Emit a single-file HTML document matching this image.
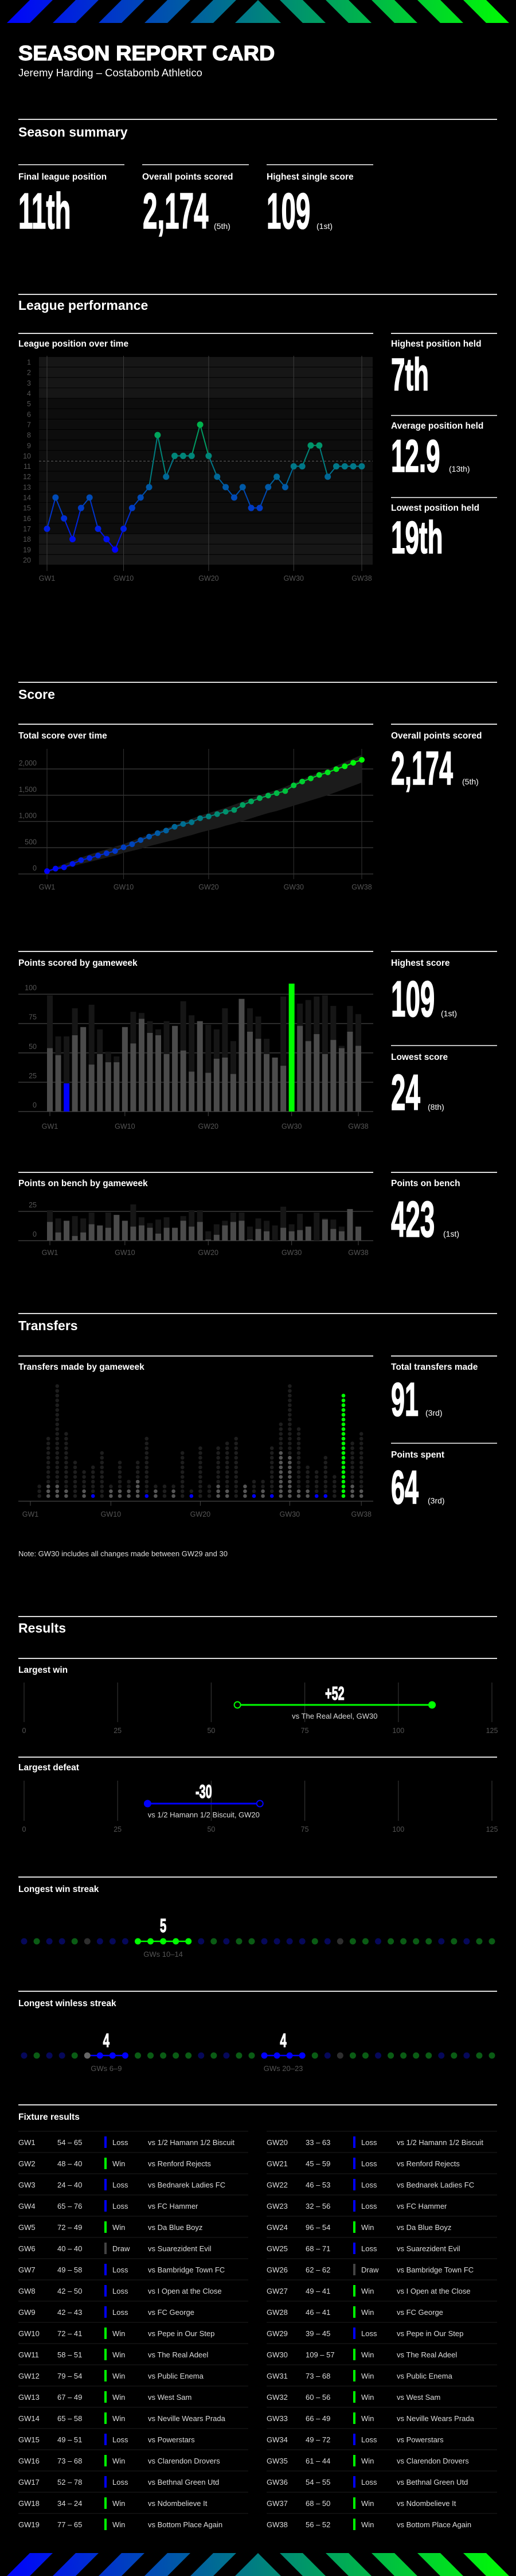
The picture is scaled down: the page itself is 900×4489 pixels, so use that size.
<!DOCTYPE html>
<html><head><meta charset="utf-8"><title>Season Report Card</title>
<style>
html,body{margin:0;padding:0;background:#000;}
svg{display:block;font-family:"Liberation Sans",Arial,sans-serif;}
.h1{font-weight:bold;fill:#fff;font-size:23px;}
.lbl{font-weight:bold;fill:#fff;font-size:15.5px;}
.big{font-weight:bold;fill:#fff;stroke:#fff;stroke-width:1.6;}
.suf{fill:#fff;font-size:14px;}
.tick{fill:#555;font-size:12.5px;}
.row{fill:#ddd;font-size:13px;}
</style></head>
<body>
<svg id="page" width="900" height="4489" viewBox="0 0 900 4489" xmlns="http://www.w3.org/2000/svg">
<defs>
<linearGradient id="stripeGrad" x1="0" y1="0" x2="900" y2="0" gradientUnits="userSpaceOnUse">
<stop offset="0" stop-color="#0000ff"/><stop offset="0.5" stop-color="#008080"/><stop offset="1" stop-color="#00ff00"/>
</linearGradient>
</defs>
<rect x="0" y="0" width="900" height="4489" fill="#000"/>
<g id="topStripes"></g>
<g id="bottomStripes"></g>

<text x="32" y="105" font-size="36" font-weight="bold" fill="#fff" stroke="#fff" stroke-width="1.2" transform="translate(32,0) scale(1.05,1) translate(-32,0)">SEASON REPORT CARD</text>
<text x="32" y="133" font-size="18.5" fill="#fff">Jeremy Harding – Costabomb Athletico</text>

<!-- Season summary -->
<rect x="32" y="207" width="835" height="2" fill="#ddd"/>
<text class="h1" x="32" y="238">Season summary</text>
<rect x="32" y="286" width="185" height="2" fill="#bbb"/>
<rect x="248" y="286" width="186" height="2" fill="#bbb"/>
<rect x="465" y="286" width="186" height="2" fill="#bbb"/>
<text class="lbl" x="32" y="313">Final league position</text>
<text class="lbl" x="248" y="313">Overall points scored</text>
<text class="lbl" x="465" y="313">Highest single score</text>
<text class="big" font-size="88" transform="translate(32,398) scale(0.52,1)">11th</text>
<text class="big" font-size="88" transform="translate(249,398) scale(0.52,1)">2,174</text>
<text class="suf" x="373" y="399">(5th)</text>
<text class="big" font-size="88" transform="translate(465,398) scale(0.52,1)">109</text>
<text class="suf" x="552" y="399">(1st)</text>

<!-- League performance -->
<rect x="32" y="512" width="835" height="2" fill="#ddd"/>
<text class="h1" x="32" y="540">League performance</text>
<rect x="32" y="580" width="619" height="2" fill="#ddd"/>
<rect x="682" y="580" width="185" height="2" fill="#ddd"/>
<text class="lbl" x="32" y="604">League position over time</text>
<text class="lbl" x="682" y="604">Highest position held</text>
<text class="big" font-size="80" transform="translate(682,680) scale(0.55,1)">7th</text>
<rect x="682" y="723" width="185" height="2" fill="#bbb"/>
<text class="lbl" x="682" y="747">Average position held</text>
<text class="big" font-size="80" transform="translate(682,822) scale(0.55,1)">12.9</text>
<text class="suf" x="783" y="822">(13th)</text>
<rect x="682" y="866" width="185" height="2" fill="#bbb"/>
<text class="lbl" x="682" y="890">Lowest position held</text>
<text class="big" font-size="80" transform="translate(682,964) scale(0.55,1)">19th</text>
<g id="posChart"></g>

<!-- Score -->
<rect x="32" y="1188" width="835" height="2" fill="#ddd"/>
<text class="h1" x="32" y="1218">Score</text>
<rect x="32" y="1261" width="619" height="2" fill="#ddd"/>
<rect x="682" y="1261" width="185" height="2" fill="#ddd"/>
<text class="lbl" x="32" y="1287">Total score over time</text>
<text class="lbl" x="682" y="1287">Overall points scored</text>
<text class="big" font-size="83" transform="translate(682,1367) scale(0.52,1)">2,174</text>
<text class="suf" x="806" y="1367">(5th)</text>
<g id="cumChart"></g>

<rect x="32" y="1657" width="619" height="2" fill="#ddd"/>
<rect x="682" y="1657" width="185" height="2" fill="#ddd"/>
<text class="lbl" x="32" y="1683">Points scored by gameweek</text>
<text class="lbl" x="682" y="1683">Highest score</text>
<text class="big" font-size="88" transform="translate(682,1771) scale(0.52,1)">109</text>
<text class="suf" x="769" y="1771">(1st)</text>
<rect x="682" y="1821" width="185" height="2" fill="#bbb"/>
<text class="lbl" x="682" y="1847">Lowest score</text>
<text class="big" font-size="88" transform="translate(682,1934) scale(0.52,1)">24</text>
<text class="suf" x="746" y="1934">(8th)</text>
<g id="barChart"></g>

<rect x="32" y="2042" width="619" height="2" fill="#ddd"/>
<rect x="682" y="2042" width="185" height="2" fill="#ddd"/>
<text class="lbl" x="32" y="2067">Points on bench by gameweek</text>
<text class="lbl" x="682" y="2067">Points on bench</text>
<text class="big" font-size="88" transform="translate(682,2155) scale(0.52,1)">423</text>
<text class="suf" x="773" y="2155">(1st)</text>
<g id="benchChart"></g>

<!-- Transfers -->
<rect x="32" y="2288" width="835" height="2" fill="#ddd"/>
<text class="h1" x="32" y="2318">Transfers</text>
<rect x="32" y="2362" width="619" height="2" fill="#ddd"/>
<rect x="682" y="2362" width="185" height="2" fill="#ddd"/>
<text class="lbl" x="32" y="2387">Transfers made by gameweek</text>
<text class="lbl" x="682" y="2387">Total transfers made</text>
<text class="big" font-size="83" transform="translate(682,2467) scale(0.52,1)">91</text>
<text class="suf" x="742" y="2467">(3rd)</text>
<rect x="682" y="2514" width="185" height="2" fill="#bbb"/>
<text class="lbl" x="682" y="2540">Points spent</text>
<text class="big" font-size="83" transform="translate(682,2620) scale(0.52,1)">64</text>
<text class="suf" x="746" y="2620">(3rd)</text>
<g id="transferChart"></g>
<text x="32" y="2712" font-size="13" fill="#ddd">Note: GW30 includes all changes made between GW29 and 30</text>

<!-- Results -->
<rect x="32" y="2816" width="835" height="2" fill="#ddd"/>
<text class="h1" x="32" y="2845">Results</text>
<rect x="32" y="2889" width="835" height="2" fill="#ddd"/>
<text class="lbl" x="32" y="2915">Largest win</text>
<g id="winChart"></g>
<rect x="32" y="3061" width="835" height="2" fill="#ddd"/>
<text class="lbl" x="32" y="3085">Largest defeat</text>
<g id="lossChart"></g>

<rect x="32" y="3270" width="835" height="2" fill="#ddd"/>
<text class="lbl" x="32" y="3297">Longest win streak</text>
<g id="winStreak"></g>
<rect x="32" y="3469" width="835" height="2" fill="#ddd"/>
<text class="lbl" x="32" y="3496">Longest winless streak</text>
<g id="winlessStreak"></g>

<rect x="32" y="3667" width="835" height="2" fill="#ddd"/>
<text class="lbl" x="32" y="3694">Fixture results</text>
<g id="fixtureTable"></g>
</svg>

<script>
// ---------- DATA ----------
const gameweeks = [1,2,3,4,5,6,7,8,9,10,11,12,13,14,15,16,17,18,19,20,21,22,23,24,25,26,27,28,29,30,31,32,33,34,35,36,37,38];
const xTickWeeks = [1,10,20,30,38];
const positions = [17,14,16,18,15,14,17,18,19,17,15,14,13,8,12,10,10,10,7,10,12,13,14,13,15,15,13,12,13,11,11,9,9,12,11,11,11,11];
const positionTicks = [1,2,3,4,5,6,7,8,9,10,11,12,13,14,15,16,17,18,19,20];
const positionReference = 10.5;
const pointsScored = [54,48,24,65,72,40,49,42,42,72,58,79,67,65,49,73,52,34,77,33,45,46,32,96,68,62,49,46,39,109,73,60,66,49,61,54,68,56];
const opponentScores = [65,40,40,76,49,40,58,50,43,41,51,54,49,58,51,68,78,24,65,63,59,53,56,54,71,62,41,41,45,57,68,56,49,72,44,55,50,52];
const weeklyMax = [99,64,64,88,72,91,70,51,47,72,85,84,77,70,77,73,94,82,77,74,70,88,60,96,88,81,62,46,98,109,92,95,98,99,90,56,90,83];
const scoreTicks = [0,25,50,75,100];
const cumTicks = [0,500,1000,1500,2000];
const cumBandHigh = [60,125,185,250,310,370,420,470,520,570,630,690,750,810,870,930,990,1050,1110,1160,1210,1260,1320,1380,1440,1500,1550,1600,1660,1730,1800,1870,1930,1990,2060,2130,2200,2270];
const cumBandLow = [35,75,110,150,190,230,270,310,350,400,440,480,530,570,610,650,700,740,790,830,870,920,960,1010,1060,1110,1160,1200,1250,1300,1350,1400,1450,1500,1560,1620,1680,1740];
const benchPoints = [16,7,17,4,7,14,13,11,22,17,12,13,11,6,11,11,17,12,16,1,5,13,16,17,1,10,8,0,11,8,9,12,0,18,10,8,27,12];
const benchMax = [26,19,17,21,19,24,13,24,22,17,31,20,15,18,20,11,21,26,26,8,14,17,24,24,12,19,17,13,29,14,23,12,24,19,18,12,27,12];
const benchTicks = [0,25];
const transfersMade = [0,0,3,3,2,0,2,1,0,2,2,2,4,1,2,0,2,0,1,0,0,3,2,0,3,1,2,1,10,9,2,2,1,1,0,22,3,2];
const transfersMax = [0,3,13,24,14,8,6,7,10,3,8,4,8,13,3,3,3,10,2,11,3,11,12,13,3,4,4,11,16,24,15,7,6,9,5,22,12,14];
const results = ['L','W','L','L','W','D','L','L','L','W','W','W','W','W','L','W','L','W','W','L','L','L','L','W','L','D','W','W','L','W','W','W','W','L','W','L','W','W'];
const opponents = ['1/2 Hamann 1/2 Biscuit','Renford Rejects','Bednarek Ladies FC','FC Hammer','Da Blue Boyz','Suarezident Evil','Bambridge Town FC','I Open at the Close','FC George','Pepe in Our Step','The Real Adeel','Public Enema','West Sam','Neville Wears Prada','Powerstars','Clarendon Drovers','Bethnal Green Utd','Ndombelieve It','Bottom Place Again'];
const resultTicks = [0,25,50,75,100,125];
const largestWin = [57,109];
const largestDefeat = [33,63];
const winStreakRange = [10,14];
const winlessRanges = [[6,9],[20,23]];

// ---------- HELPERS ----------
const NS='http://www.w3.org/2000/svg';
function mk(tag, attrs, parent){const e=document.createElementNS(NS,tag);for(const k in attrs)e.setAttribute(k,attrs[k]);parent.appendChild(e);return e;}
function mkText(str, attrs, parent){const e=mk('text',attrs,parent);e.textContent=str;return e;}
function lerpColor(t){t=Math.max(0,Math.min(1,t));return 'rgb(0,'+Math.round(255*t)+','+Math.round(255*(1-t))+')';}
const gwLabel = g => 'GW'+g;

// ---------- STRIPES ----------
function stripes(gid, y0){
  const g=document.getElementById(gid);
  for(let k=0;k<5;k++){
    const x0=12+80*k;
    let p=mk('polygon',{points:`${x0},${y0+40} ${x0+40},${y0+40} ${x0+80},${y0} ${x0+40},${y0}`,fill:'url(#stripeGrad)'},g);
    
    
    const m=900-x0;
    p=mk('polygon',{points:`${m},${y0+40} ${m-40},${y0+40} ${m-80},${y0} ${m-40},${y0}`,fill:'url(#stripeGrad)'},g);
    
    
  }
  const t=mk('polygon',{points:`410,${y0+40} 450,${y0} 490,${y0+40}`,fill:'url(#stripeGrad)'},g);
  
  
}
stripes('topStripes',0);
stripes('bottomStripes',4449);

// ---------- POSITION CHART ----------
(function(){
  const g=document.getElementById('posChart');
  const rowH=(985-622)/20;
  const x=gw=>82+(gw-1)*(631-82)/37;
  const y=p=>622+(p-0.5)*rowH;
  positionTicks.forEach(p=>{
    const r=mk('rect',{x:68,y:622+(p-1)*rowH,width:582,height:rowH-1,fill:(p<=4||p>=18)?'#161616':'#0d0d0d'},g);
    
    
    const t=mkText(String(p),{x:54,y:y(p)+4.5,'text-anchor':'end',class:'tick'},g);
    
    
  });
  xTickWeeks.forEach(w=>{
    const l=mk('line',{x1:x(w),x2:x(w),y1:620,y2:995,stroke:'#3c3c3c','stroke-width':1},g);
    
    
    const t=mkText(gwLabel(w),{x:x(w),y:1012,'text-anchor':'middle',class:'tick'},g);
    
    
  });
  const ref=mk('line',{x1:68,x2:650,y1:y(positionReference+0.5)-rowH/2,y2:y(positionReference+0.5)-rowH/2,stroke:'#666','stroke-dasharray':'4,3','stroke-width':1},g);
  
  
  const col=p=>lerpColor(((19-p)/12)*0.7);
  for(let i=0;i<positions.length-1;i++){
    const l=mk('line',{x1:x(gameweeks[i]),y1:y(positions[i]),x2:x(gameweeks[i+1]),y2:y(positions[i+1]),stroke:col((positions[i]+positions[i+1])/2),'stroke-width':2},g);
    
    
  }
  positions.forEach((p,i)=>{
    const c=mk('circle',{cx:x(gameweeks[i]),cy:y(p),r:5.5,fill:col(p)},g);
    
    
  });
})();

// ---------- CUMULATIVE CHART ----------
(function(){
  const g=document.getElementById('cumChart');
  const x=gw=>82+(gw-1)*(631-82)/37;
  const y=v=>1523-v*(183/2000);
  cumTicks.forEach(v=>{
    const l=mk('line',{x1:32,x2:651,y1:y(v),y2:y(v),stroke:'#333','stroke-width':1.5},g);
    
    
    const t=mkText(v.toLocaleString('en-US'),{x:64,y:y(v)-6,'text-anchor':'end',class:'tick'},g);
    
    
  });
  xTickWeeks.forEach(w=>{
    const l=mk('line',{x1:x(w),x2:x(w),y1:1305,y2:1532,stroke:'#333','stroke-width':1},g);
    
    
    const t=mkText(gwLabel(w),{x:x(w),y:1550,'text-anchor':'middle',class:'tick'},g);
    
    
  });
  let pts=cumBandHigh.map((v,i)=>x(gameweeks[i])+','+y(v));
  pts=pts.concat(cumBandLow.map((v,i)=>x(gameweeks[i])+','+y(v)).reverse());
  const band=mk('polygon',{points:pts.join(' '),fill:'#1b1b1b'},g);
  
  
  const cum=[];let s=0;pointsScored.forEach(v=>{s+=v;cum.push(s);});
  for(let i=0;i<cum.length-1;i++){
    const l=mk('line',{x1:x(gameweeks[i]),y1:y(cum[i]),x2:x(gameweeks[i+1]),y2:y(cum[i+1]),stroke:lerpColor(i/37),'stroke-width':2},g);
    
    
  }
  cum.forEach((v,i)=>{
    const c=mk('circle',{cx:x(gameweeks[i]),cy:y(v),r:5,fill:lerpColor(i/37)},g);
    
    
  });
})();

// ---------- BAR CHARTS ----------
function barChart(gid, vals, maxVals, ticks, y0, pxPer, labelY, highlight){
  const g=document.getElementById(gid);
  const x=gw=>87+(gw-1)*(625-87)/37;
  const y=v=>y0-v*pxPer;
  ticks.forEach(v=>{
    const l=mk('line',{x1:32,x2:651,y1:y(v),y2:y(v),stroke:'#3a3a3a','stroke-width':1.5},g);
    
    
    const t=mkText(String(v),{x:64,y:y(v)-7,'text-anchor':'end',class:'tick'},g);
    
    
  });
  const mx=Math.max(...vals), mn=Math.min(...vals);
  vals.forEach((v,i)=>{
    const gw=gameweeks[i];
    const bg=mk('rect',{x:x(gw)-5,y:y(maxVals[i]),width:10,height:maxVals[i]*pxPer,fill:'#161616'},g);
    
    
    let fill='#4b4b4b';
    if(highlight){ if(v===mx)fill='#00ff00'; else if(v===mn)fill='#0000ff'; }
    const b=mk('rect',{x:x(gw)-5,y:y(v),width:10,height:v*pxPer,fill:fill},g);
    
    
  });
  xTickWeeks.forEach(w=>{
    const l=mk('line',{x1:x(w),x2:x(w),y1:y0,y2:y0+8,stroke:'#444','stroke-width':1},g);
    
    
    const t=mkText(gwLabel(w),{x:x(w),y:labelY,'text-anchor':'middle',class:'tick'},g);
    
    
  });
}
barChart('barChart',pointsScored,weeklyMax,scoreTicks,1937,2.045,1967,true);
barChart('benchChart',benchPoints,benchMax,benchTicks,2162,2.04,2187,false);

// ---------- TRANSFERS ----------
(function(){
  const g=document.getElementById('transferChart');
  const x=gw=>53+(gw-1)*15.6;
  const y=k=>2607-k*8.33;
  const mx=Math.max(...transfersMade);
  const mn=Math.min(...transfersMade.filter(v=>v>0));
  transfersMade.forEach((v,i)=>{
    const gw=gameweeks[i];
    const n=Math.max(v,transfersMax[i]);
    let col='#555';
    if(v===mx)col='#00ff00'; else if(v===mn)col='#0000ff';
    for(let k=0;k<n;k++){
      const c=mk('circle',{cx:x(gw),cy:y(k),r:3.3,fill:k<v?col:'#1d1d1d'},g);
      
      
    }
  });
  const ax=mk('line',{x1:32,x2:651,y1:2616,y2:2616,stroke:'#3a3a3a','stroke-width':1.5},g);
  
  
  xTickWeeks.forEach(w=>{
    const l=mk('line',{x1:x(w),x2:x(w),y1:2616,y2:2624,stroke:'#444','stroke-width':1},g);
    
    
    const t=mkText(gwLabel(w),{x:x(w),y:2643,'text-anchor':'middle',class:'tick'},g);
    
    
  });
})();

// ---------- DUMBBELLS ----------
function dumbbell(gid, pair, y1, y2, cy, isWin, gwIdx, labelY, capY, tickY){
  const g=document.getElementById(gid);
  const x=v=>42+v*(816/125);
  resultTicks.forEach(v=>{
    const l=mk('line',{x1:x(v),x2:x(v),y1:y1,y2:y2,stroke:'#333','stroke-width':1.2},g);
    
    
    const t=mkText(String(v),{x:x(v),y:tickY,'text-anchor':'middle',class:'tick',fill:'#444'},g);
    
    
  });
  const col=isWin?'#00ff00':'#0000ff';
  const ln=mk('line',{x1:x(pair[0]),x2:x(pair[1]),y1:cy,y2:cy,stroke:col,'stroke-width':3},g);
  
  
  const own=isWin?pair[1]:pair[0], opp=isWin?pair[0]:pair[1];
  const c1=mk('circle',{cx:x(opp),cy:cy,r:5.5,fill:'#000',stroke:col,'stroke-width':2},g);
  
  
  const c2=mk('circle',{cx:x(own),cy:cy,r:6.5,fill:col},g);
  
  
  const mid=x((pair[0]+pair[1])/2);
  const diff=(isWin?'+':'-')+Math.abs(pair[1]-pair[0]);
  const big=mkText(diff,{'font-size':32,'font-weight':'bold',fill:'#fff',stroke:'#fff','stroke-width':1.2,'text-anchor':'middle',transform:`translate(${mid},${labelY}) scale(0.62,1)`},g);
  
  
  const cap=mkText('vs '+opponents[(gwIdx-1)%19]+', GW'+gwIdx,{x:mid,y:capY,'text-anchor':'middle','font-size':13,fill:'#ddd'},g);
  
  
}
dumbbell('winChart',largestWin,2932,3001,2971,true,30,2962,2995,3020);
dumbbell('lossChart',largestDefeat,3103,3173,3143,false,20,3133,3167,3192);

// ---------- STREAKS ----------
function streak(gid, ranges, cy, numY, capY, isWin){
  const g=document.getElementById(gid);
  const x=gw=>42+(gw-1)*(816/37);
  const inR=gw=>ranges.some(r=>gw>=r[0]&&gw<=r[1]);
  ranges.forEach(r=>{
    const l=mk('line',{x1:x(r[0]),x2:x(r[1]),y1:cy,y2:cy,stroke:isWin?'#00ff00':'#0000ff','stroke-width':2.5},g);
    
    
    const mid=(x(r[0])+x(r[1]))/2;
    const n=mkText(String(r[1]-r[0]+1),{'font-size':33,'font-weight':'bold',fill:'#fff',stroke:'#fff','stroke-width':1.2,'text-anchor':'middle',transform:`translate(${mid},${numY}) scale(0.62,1)`},g);
    
    
    const c=mkText('GWs '+r[0]+'–'+r[1],{x:mid,y:capY,'text-anchor':'middle','font-size':13,fill:'#555'},g);
    
    
  });
  results.forEach((res,i)=>{
    const gw=gameweeks[i];
    let fill=res==='W'?'#0a5c14':res==='L'?'#06085a':'#2e2e2e';
    if(inR(gw)) fill=res==='W'?'#00ff00':res==='L'?'#0000ff':'#666';
    const c=mk('circle',{cx:x(gw),cy:cy,r:5.5,fill:fill},g);
    
    
  });
}
streak('winStreak',[winStreakRange],3383,3367,3410,true);
streak('winlessStreak',winlessRanges,3582,3567,3609,false);

// ---------- FIXTURE TABLE ----------
(function(){
  const g=document.getElementById('fixtureTable');
  const cols=[{gw:32,sc:100,bar:182,res:196,opp:258,x1:32,x2:433},{gw:465,sc:533,bar:616,res:630,opp:692,x1:465,x2:867}];
  results.forEach((res,i)=>{
    const gw=gameweeks[i];
    const c=cols[i<19?0:1];
    const r=i%19;
    const top=3714+r*37;
    const sep=mk('line',{x1:c.x1,x2:c.x2,y1:top,y2:top,stroke:'#1e1e1e','stroke-width':1},g);
    
    
    const base=top+24;
    let t=mkText('GW'+gw,{x:c.gw,y:base,class:'row'},g);
    
    
    t=mkText(pointsScored[i]+' – '+opponentScores[i],{x:c.sc,y:base,class:'row'},g);
    
    
    const b=mk('rect',{x:c.bar,y:top+9,width:4,height:20,fill:res==='W'?'#00ff00':res==='L'?'#0000ff':'#444'},g);
    
    
    t=mkText(res==='W'?'Win':res==='L'?'Loss':'Draw',{x:c.res,y:base,class:'row'},g);
    
    
    t=mkText('vs '+opponents[i%19],{x:c.opp,y:base,class:'row'},g);
    
    
  });
})();
</script>
</body></html>
